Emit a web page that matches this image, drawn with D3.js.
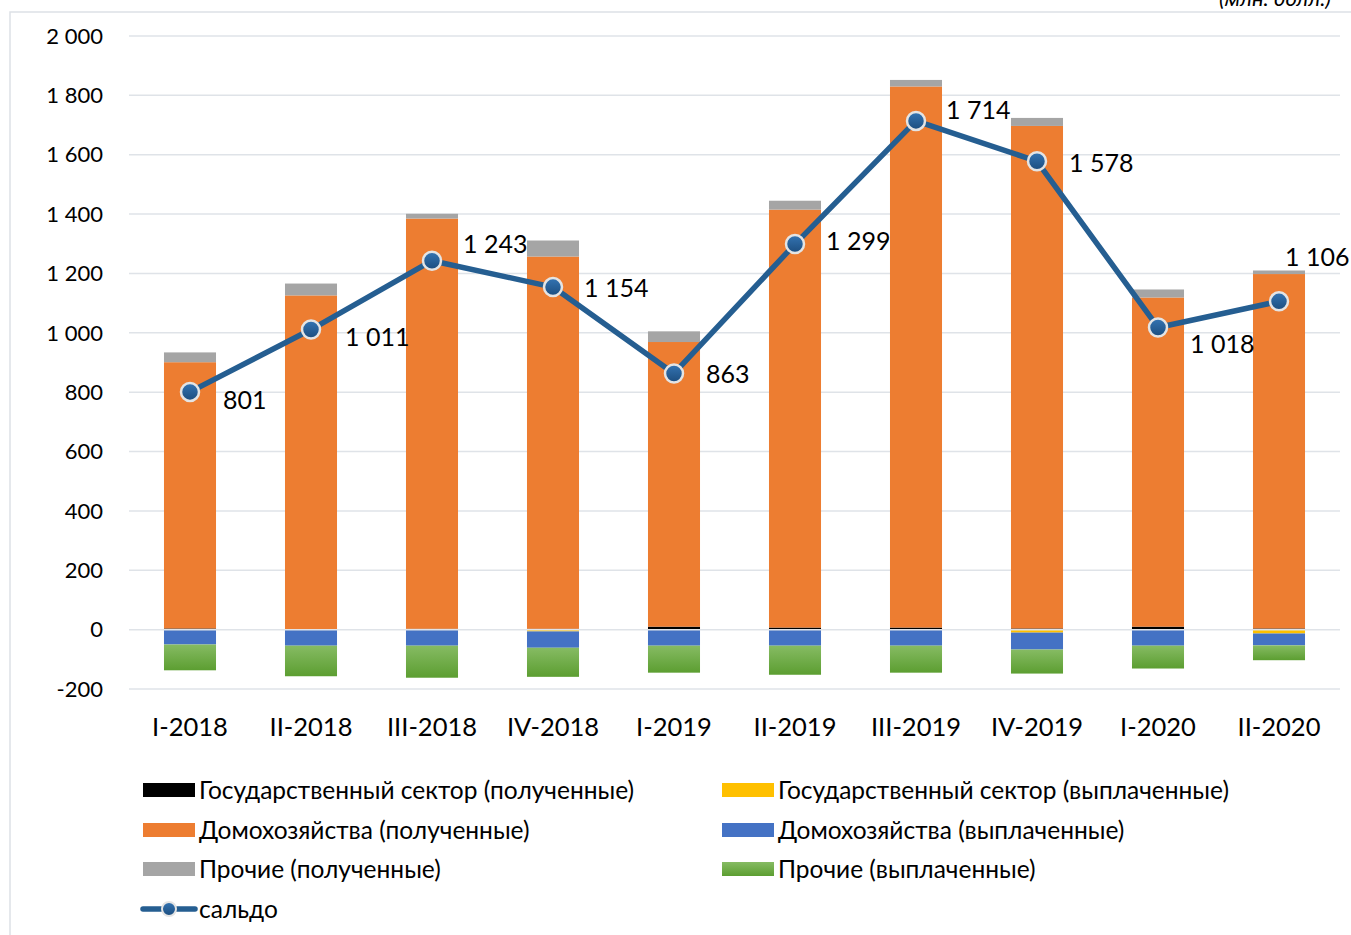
<!DOCTYPE html>
<html>
<head>
<meta charset="utf-8">
<script src="https://cdn.jsdelivr.net/npm/d3@7"></script>
<style>
  html, body { margin: 0; padding: 0; background: #fff; }
  svg { display: block; font-family: Lato, "Open Sans", sans-serif; }
</style>
</head>
<body>
<svg id="chart" width="1351" height="935"></svg>
<script>
// quarters
const categories = ['I-2018', 'II-2018', 'III-2018', 'IV-2018', 'I-2019', 'II-2019', 'III-2019', 'IV-2019', 'I-2020', 'II-2020'];

// received (positive) and paid (negative), mln USD
const govReceived   = [4, 2, 3, 3, 10, 7, 7, 4, 10, 4];
const govPaid       = [0, 0, 0, -6, 0, 0, 0, -10, 0, -13];
const hhReceived    = [897, 1124, 1382, 1254, 959, 1408, 1823, 1693, 1109, 1194];
const hhPaid        = [-50, -54, -54, -55, -54, -54, -54, -57, -54, -40];
const otherReceived = [33, 40, 16, 54, 36, 30, 22, 27, 27, 12];
const otherPaid     = [-87, -103, -108, -98, -91, -98, -91, -81, -77, -50];
const saldo         = [801, 1011, 1243, 1154, 863, 1299, 1714, 1578, 1018, 1106];

const yTicks = [-200, 0, 200, 400, 600, 800, 1000, 1200, 1400, 1600, 1800, 2000];

const seriesKeys = ['govReceived', 'govPaid', 'hhReceived', 'hhPaid', 'otherReceived', 'otherPaid'];
const seriesNames = {
    govReceived: 'Государственный сектор (полученные)',
    govPaid: 'Государственный сектор (выплаченные)',
    hhReceived: 'Домохозяйства (полученные)',
    hhPaid: 'Домохозяйства (выплаченные)',
    otherReceived: 'Прочие (полученные)',
    otherPaid: 'Прочие (выплаченные)'
};
const colors = {
    govReceived: '#000000',
    govPaid: '#ffc000',
    hhReceived: '#ed7d31',
    hhPaid: '#4472c4',
    otherReceived: '#a5a5a5',
    otherPaid: 'url(#greenGrad)'
};
const lineColor = '#255e91';

// hand placed label offsets (like the original)
const labelOffsets = [[33, 8], [34, 8], [31, -16], [31, 1], [32, 1], [31, -3], [30, -11], [32, 2], [32, 17], [6, -44]];

const table = categories.map((c, i) => ({
    cat: c,
    govReceived: govReceived[i],
    govPaid: govPaid[i],
    hhReceived: hhReceived[i],
    hhPaid: hhPaid[i],
    otherReceived: otherReceived[i],
    otherPaid: otherPaid[i]
}));

const svg = d3.select('#chart');
const fmt = v => (v < 0 ? '-' : '') + d3.format(',')(Math.abs(v)).replace(/,/g, ' ');

const defs = svg.append('defs');
const gg = defs.append('linearGradient').attr('id', 'greenGrad').attr('x1', 0).attr('y1', 0).attr('x2', 0).attr('y2', 1);
gg.append('stop').attr('offset', '0%').attr('stop-color', '#86bb63');
gg.append('stop').attr('offset', '100%').attr('stop-color', '#5c9e31');
const mg = defs.append('linearGradient').attr('id', 'markerGrad').attr('x1', 0).attr('y1', 0).attr('x2', 0).attr('y2', 1);
mg.append('stop').attr('offset', '0%').attr('stop-color', '#3474b3');
mg.append('stop').attr('offset', '100%').attr('stop-color', '#1c4d7e');

// chart frame
svg.append('path')
    .attr('d', 'M10,940 L10,12 L1360,12')
    .attr('fill', 'none')
    .attr('stroke', '#dde1e6')
    .attr('stroke-width', 1.5);

const x = d3.scaleBand().domain(categories).range([129.5, 1339.5]).paddingInner(0.57).paddingOuter(0.285);
const y = d3.scaleLinear().domain([-200, 2000]).range([689, 36]);

// gridlines
svg.append('g')
    .selectAll('line')
    .data(yTicks.filter(t => t !== 0))
    .join('line')
    .attr('x1', 129).attr('x2', 1340)
    .attr('y1', d => y(d)).attr('y2', d => y(d))
    .attr('stroke', '#dfe3e8')
    .attr('stroke-width', 1.5);

// y tick labels
svg.append('g')
    .selectAll('text')
    .data(yTicks)
    .join('text')
    .attr('x', 103)
    .attr('y', d => y(d))
    .attr('dy', '0.35em')
    .attr('text-anchor', 'end')
    .attr('font-size', 22)
    .attr('fill', '#000')
    .text(d => fmt(d));

// stacked bars
const stacked = d3.stack().keys(seriesKeys).offset(d3.stackOffsetDiverging)(table);
svg.append('g')
    .selectAll('g')
    .data(stacked)
    .join('g')
    .attr('fill', d => colors[d.key])
    .selectAll('rect')
    .data(d => d)
    .join('rect')
    .attr('x', d => x(d.data.cat))
    .attr('width', x.bandwidth())
    .attr('y', d => y(Math.max(d[0], d[1])))
    .attr('height', d => Math.abs(y(d[0]) - y(d[1])));

// zero gridline over bars
svg.append('line')
    .attr('x1', 129).attr('x2', 1340)
    .attr('y1', y(0)).attr('y2', y(0))
    .attr('stroke', '#dfe3e8')
    .attr('stroke-width', 1.5);

// x labels
svg.append('g')
    .selectAll('text')
    .data(categories)
    .join('text')
    .attr('x', d => x(d) + x.bandwidth() / 2)
    .attr('y', 727)
    .attr('dy', '0.35em')
    .attr('text-anchor', 'middle')
    .attr('font-size', 25.5)
    .text(d => d);

// saldo line
const cx = (d, i) => x(categories[i]) + x.bandwidth() / 2;
svg.append('path')
    .datum(saldo)
    .attr('fill', 'none')
    .attr('stroke', lineColor)
    .attr('stroke-width', 5.5)
    .attr('stroke-linejoin', 'round')
    .attr('d', d3.line().x(cx).y(d => y(d)));

svg.append('g')
    .selectAll('circle')
    .data(saldo)
    .join('circle')
    .attr('cx', cx)
    .attr('cy', d => y(d))
    .attr('r', 9)
    .attr('fill', 'url(#markerGrad)')
    .attr('stroke', '#e4e4e4')
    .attr('stroke-width', 2.5);

svg.append('g')
    .selectAll('text')
    .data(saldo)
    .join('text')
    .attr('x', (d, i) => cx(d, i) + labelOffsets[i][0])
    .attr('y', (d, i) => y(d) + labelOffsets[i][1])
    .attr('dy', '0.35em')
    .attr('font-size', 25)
    .text(d => fmt(d));

// units
svg.append('text')
    .attr('x', 1331)
    .attr('y', 6)
    .attr('text-anchor', 'end')
    .attr('font-size', 22)
    .attr('font-style', 'italic')
    .text('(млн. долл.)');

// legend
const legendItems = [
    { key: 'govReceived', col: 0, row: 0 },
    { key: 'govPaid', col: 1, row: 0 },
    { key: 'hhReceived', col: 0, row: 1 },
    { key: 'hhPaid', col: 1, row: 1 },
    { key: 'otherReceived', col: 0, row: 2 },
    { key: 'otherPaid', col: 1, row: 2 }
];
const colX = [143, 722];
const rowY = [790, 830, 869, 909];

const leg = svg.append('g')
    .selectAll('g')
    .data(legendItems)
    .join('g')
    .attr('transform', d => `translate(${colX[d.col]},${rowY[d.row]})`);
leg.append('rect')
    .attr('x', 0).attr('y', -7)
    .attr('width', 52).attr('height', 14)
    .attr('fill', d => colors[d.key]);
leg.append('text')
    .attr('x', 56)
    .attr('dy', '0.35em')
    .attr('font-size', 24.5)
    .text(d => seriesNames[d.key]);

const saldoLeg = svg.append('g').attr('transform', `translate(${colX[0]},${rowY[3]})`);
saldoLeg.append('line')
    .attr('x1', 0).attr('x2', 52)
    .attr('stroke', lineColor).attr('stroke-width', 5.5).attr('stroke-linecap', 'round');
saldoLeg.append('circle')
    .attr('cx', 26).attr('r', 7)
    .attr('fill', 'url(#markerGrad)')
    .attr('stroke', '#e4e4e4').attr('stroke-width', 2);
saldoLeg.append('text')
    .attr('x', 56)
    .attr('dy', '0.35em')
    .attr('font-size', 24.5)
    .text('сальдо');
</script>
</body>
</html>
